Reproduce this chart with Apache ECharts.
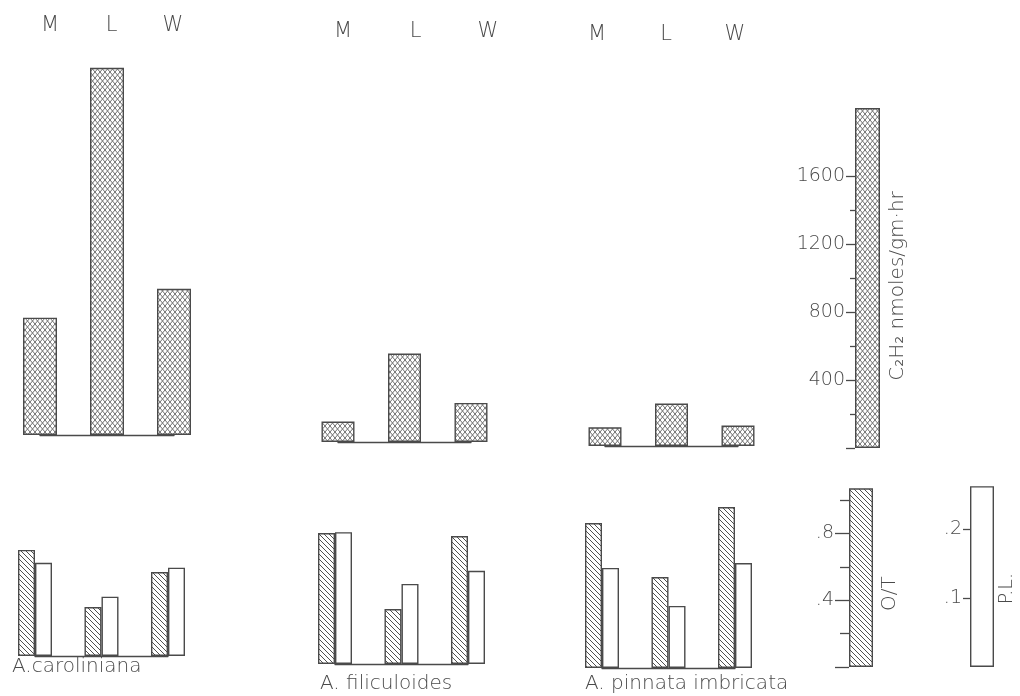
<!DOCTYPE html>
<html>
<head>
<meta charset="utf-8">
<script src="https://cdn.jsdelivr.net/npm/echarts@6/dist/echarts.min.js"></script>
<style>html,body{margin:0;background:#fff}#c{width:1020px;height:696px}</style>
</head>
<body>
<div id="c"></div>
<script>
// ---------------- data ----------------
const categories = ['M', 'L', 'W'];
const species = ['A.caroliniana', 'A. filiculoides', 'A. pinnata imbricata'];
// C2H2 reduction, nmoles/gm·hr
const c2h2Caroliniana = [690, 2160, 860];
const c2h2Filiculoides = [120, 520, 230];
const c2h2Pinnata = [110, 250, 120];
// O/T ratio
const otCaroliniana = [0.635, 0.293, 0.503];
const otFiliculoides = [0.784, 0.329, 0.766];
const otPinnata = [0.868, 0.545, 0.964];
// P.L.
const plCaroliniana = [0.135, 0.086, 0.128];
const plFiliculoides = [0.191, 0.116, 0.135];
const plPinnata = [0.145, 0.090, 0.152];
// scale keys
const keyC2H2 = [2000];
const keyOT = [1.07];
const keyPL = [0.262];
const c2h2TickLabels = [400, 800, 1200, 1600];
const c2h2MinorTicks = [200, 600, 1000, 1400];
const otTickLabels = [0.4, 0.8];
const otMinorTicks = [0.2, 0.6, 1.0];
const plTickLabels = [0.1, 0.2];

const c2h2Sets = [c2h2Caroliniana, c2h2Filiculoides, c2h2Pinnata];
const otSets = [otCaroliniana, otFiliculoides, otPinnata];
const plSets = [plCaroliniana, plFiliculoides, plPinnata];

// ---------------- style / layout ----------------
const INK = '#4a4a4a';
const TXT = '#4a4a4a';
const FONT = "'DejaVu Sans', 'Open Sans', sans-serif";
const FW = 200;
const TOP_PX = 0.17;     // px per nmole unit
const OT_PX = 167;       // px per O/T unit
const PL_PX = 690;       // px per P.L. unit
const TOP_H = 374, BOT_H = 200;

const topPanels = [ {left: 40, width: 134, base: 435, bw: 34},
                    {left: 338, width: 133, base: 442, bw: 33},
                    {left: 605, width: 133, base: 446, bw: 33} ];
const labelRows = [ {left: 50, width: 123, y: 26},
                    {left: 343, width: 145, y: 32},
                    {left: 597, width: 138, y: 35} ];
const botPanels = [ {left: 35, width: 133, base: 656},
                    {left: 335, width: 133, base: 664},
                    {left: 602, width: 133, base: 668} ];
const nameBoxes = [ {left: 12, top: 657}, {left: 320, top: 674}, {left: 585, top: 674} ];

function makeLattice() {
  const w = 5, h = 6;
  const c = document.createElement('canvas'); c.width = w; c.height = h;
  const g = c.getContext('2d');
  g.fillStyle = '#fff'; g.fillRect(0, 0, w, h);
  g.strokeStyle = '#707070'; g.lineWidth = 1;
  g.beginPath();
  g.moveTo(0, 0); g.lineTo(w, h);
  g.moveTo(w, 0); g.lineTo(0, h);
  g.stroke();
  return c;
}
function makeHatch() {
  const s = 5;
  const c = document.createElement('canvas'); c.width = s; c.height = s;
  const g = c.getContext('2d');
  g.fillStyle = '#fff'; g.fillRect(0, 0, s, s);
  g.strokeStyle = '#505050'; g.lineWidth = 1;
  g.beginPath();
  g.moveTo(-1, -1); g.lineTo(s + 1, s + 1);
  g.moveTo(-1, s - 1); g.lineTo(1, s + 1);
  g.moveTo(s - 1, -1); g.lineTo(s + 1, 1);
  g.stroke();
  return c;
}
const lattice = {image: makeLattice(), repeat: 'repeat'};
const hatch = {image: makeHatch(), repeat: 'repeat'};

const grids = [], xAxes = [], yAxes = [], series = [];
function addGrid(g) { g.outerBoundsMode = 'none'; g.containLabel = false; grids.push(g); return grids.length - 1; }
function hiddenX(gi, extra) { xAxes.push(Object.assign({gridIndex: gi, type: 'category', data: ['k'], show: false}, extra || {})); return xAxes.length - 1; }
function hiddenY(gi, max, extra) {
  yAxes.push(Object.assign({gridIndex: gi, type: 'value', min: 0, max: max, show: false, splitLine: {show: false}}, extra || {}));
  return yAxes.length - 1;
}
const barBorder = {borderColor: INK, borderWidth: 1.4};

// top panels: C2H2
topPanels.forEach((p, i) => {
  const gi = addGrid({left: p.left, top: p.base - TOP_H, width: p.width, height: TOP_H});
  xAxes.push({gridIndex: gi, type: 'category', data: categories, boundaryGap: false,
    axisLine: {show: true, lineStyle: {color: INK, width: 1.3}}, axisTick: {show: false}, axisLabel: {show: false}});
  const xi = xAxes.length - 1;
  const yi = hiddenY(gi, TOP_H / TOP_PX);
  series.push({type: 'bar', xAxisIndex: xi, yAxisIndex: yi, data: c2h2Sets[i], barWidth: p.bw, clip: false,
    itemStyle: Object.assign({color: lattice}, barBorder), silent: true});
});
// M L W header labels
labelRows.forEach((r) => {
  const gi = addGrid({left: r.left, top: r.y, width: r.width, height: 1});
  xAxes.push({gridIndex: gi, type: 'category', data: categories, boundaryGap: false, position: 'top',
    axisLine: {show: false}, axisTick: {show: false},
    axisLabel: {margin: 0, verticalAlign: 'middle', fontSize: 21, color: TXT, fontFamily: FONT, fontWeight: FW}});
  hiddenY(gi, 1);
});
// bottom panels: O/T (hatched) and P.L. (open)
botPanels.forEach((p, i) => {
  const gi = addGrid({left: p.left, top: p.base - BOT_H, width: p.width, height: BOT_H});
  xAxes.push({gridIndex: gi, type: 'category', data: categories, boundaryGap: false,
    axisLine: {show: true, lineStyle: {color: INK, width: 1.3}}, axisTick: {show: false}, axisLabel: {show: false}});
  const xi = xAxes.length - 1;
  const yOT = hiddenY(gi, BOT_H / OT_PX);
  const yPL = hiddenY(gi, BOT_H / PL_PX, {position: 'right'});
  series.push({type: 'bar', name: 'O/T', xAxisIndex: xi, yAxisIndex: yOT, data: otSets[i], barWidth: 17, barGap: '0%', clip: false,
    itemStyle: Object.assign({color: hatch}, barBorder), silent: true});
  series.push({type: 'bar', name: 'P.L.', xAxisIndex: xi, yAxisIndex: yPL, data: plSets[i], barWidth: 17, barGap: '0%', clip: false,
    itemStyle: Object.assign({color: '#fff'}, barBorder), silent: true});
});

// scale keys
function keyPanel(cfg) {
  const h = cfg.value[0] * cfg.px;
  const box = {left: cfg.left, top: cfg.base - h, width: cfg.width, height: h};
  const gi = addGrid(Object.assign({}, box));
  const xi = hiddenX(gi);
  yAxes.push({gridIndex: gi, type: 'value', min: 0, max: cfg.value[0], position: 'left',
    splitLine: {show: false}, axisLine: {show: false},
    axisTick: {show: true, length: cfg.tickLen, customValues: cfg.ticks, lineStyle: {color: INK, width: 1.3}},
    axisLabel: {show: true, customValues: cfg.labels, margin: cfg.tickLen + 1, fontSize: 19, color: TXT, fontFamily: FONT, fontWeight: FW,
      formatter: cfg.fmt}});
  const yi = yAxes.length - 1;
  yAxes.push({gridIndex: gi, type: 'value', min: 0, max: cfg.value[0], position: 'right',
    splitLine: {show: false}, axisLine: {show: false}, axisTick: {show: false}, axisLabel: {show: false},
    name: cfg.name, nameLocation: 'middle', nameRotate: 90, nameGap: cfg.nameGap,
    nameTextStyle: {fontSize: cfg.nameSize, color: TXT, fontFamily: FONT, fontWeight: FW, padding: cfg.namePad}});
  series.push({type: 'bar', xAxisIndex: xi, yAxisIndex: yi, data: cfg.value, barWidth: cfg.width, clip: false,
    itemStyle: Object.assign({color: cfg.fill}, barBorder), silent: true});
  if (cfg.minor) {
    const gm = addGrid(Object.assign({}, box));
    hiddenX(gm);
    yAxes.push({gridIndex: gm, type: 'value', min: 0, max: cfg.value[0], position: 'left',
      splitLine: {show: false}, axisLine: {show: false}, axisLabel: {show: false},
      axisTick: {show: true, length: cfg.minorLen, customValues: cfg.minor, lineStyle: {color: INK, width: 1.3}}});
  }
}
keyPanel({value: keyC2H2, px: TOP_PX, left: 855, width: 25, base: 448, fill: lattice,
  ticks: [0].concat(c2h2TickLabels), labels: c2h2TickLabels, minor: c2h2MinorTicks, tickLen: 9, minorLen: 5,
  fmt: v => String(v), name: 'C\u2082H\u2082 nmoles/gm\u00b7hr', nameGap: 8, nameSize: 20, namePad: [0, 16, 0, 0]});
keyPanel({value: keyOT, px: OT_PX, left: 849, width: 24, base: 667, fill: hatch,
  ticks: [0].concat(otTickLabels), labels: otTickLabels, minor: otMinorTicks, tickLen: 14, minorLen: 9,
  fmt: v => v.toFixed(1).replace(/^0/, ''), name: 'O/T', nameGap: 7, nameSize: 20, namePad: [0, 32, 0, 0]});
keyPanel({value: keyPL, px: PL_PX, left: 970, width: 24, base: 667, fill: '#fff',
  ticks: plTickLabels, labels: plTickLabels, minor: null, tickLen: 7,
  fmt: v => v.toFixed(1).replace(/^0/, ''), name: 'P.L.', nameGap: 4, nameSize: 19, namePad: [0, 24, 0, 0]});

const titles = species.map((s, i) => ({text: s, left: nameBoxes[i].left, top: nameBoxes[i].top, padding: 0,
  textStyle: {fontSize: 20, fontWeight: FW, color: TXT, fontFamily: FONT}}));

const chart = echarts.init(document.getElementById('c'), null, {renderer: 'canvas'});
chart.setOption({
  backgroundColor: '#fff',
  animation: false,
  title: titles,
  grid: grids,
  xAxis: xAxes,
  yAxis: yAxes,
  series: series
});
</script>
</body>
</html>
